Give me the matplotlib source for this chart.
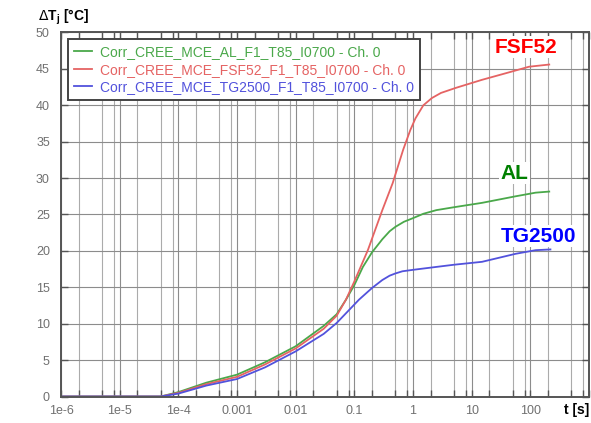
import numpy as np
import matplotlib
matplotlib.use("Agg")
import matplotlib.pyplot as plt
from matplotlib.ticker import FixedLocator, NullFormatter

plt.rcParams['font.family'] = ['Liberation Sans', 'DejaVu Sans']

# Transient thermal response: junction temperature rise vs. time
t_al = [1e-6, 5e-5, 1e-4, 3e-4, 1e-3, 3e-3, 1e-2, 3e-2, 0.05, 0.072, 0.1, 0.14,
        0.2, 0.3, 0.4, 0.5, 0.7, 1.0, 1.5, 2.5, 5, 15, 56, 123, 210]
dt_al = [0, 0, 0.6, 1.9, 3.0, 4.7, 6.9, 9.7, 11.3, 13.3, 15.3, 17.8,
         19.8, 21.6, 22.7, 23.3, 24.0, 24.5, 25.1, 25.6, 26.0, 26.6, 27.5, 28.0, 28.15]

t_fsf = [1e-6, 5e-5, 1e-4, 3e-4, 1e-3, 3e-3, 1e-2, 3e-2, 0.05, 0.072, 0.1, 0.17,
         0.3, 0.45, 0.68, 0.9, 1.1, 1.5, 2.1, 3.0, 5.4, 15, 38, 95, 210]
dt_fsf = [0, 0, 0.5, 1.7, 2.7, 4.4, 6.6, 9.3, 11.1, 13.3, 15.8, 20.1,
          25.6, 29.3, 33.9, 36.6, 38.2, 40.0, 41.0, 41.7, 42.4, 43.5, 44.4, 45.3, 45.6]

t_tg = [1e-6, 5e-5, 1e-4, 3e-4, 1e-3, 3e-3, 1e-2, 3e-2, 0.05, 0.12, 0.2, 0.3,
        0.4, 0.5, 0.66, 1.0, 2.5, 5, 15, 56, 123, 220]
dt_tg = [0, 0, 0.4, 1.5, 2.4, 4.0, 6.2, 8.6, 10.1, 13.3, 14.9, 16.0,
         16.6, 16.9, 17.2, 17.4, 17.8, 18.1, 18.5, 19.6, 20.1, 20.2]

labels = ["Corr_CREE_MCE_AL_F1_T85_I0700 - Ch. 0",
          "Corr_CREE_MCE_FSF52_F1_T85_I0700 - Ch. 0",
          "Corr_CREE_MCE_TG2500_F1_T85_I0700 - Ch. 0"]
line_colors = ["#4aa84a", "#e56363", "#5252dc"]

decades = [1e-6, 1e-5, 1e-4, 1e-3, 1e-2, 1e-1, 1, 10, 100, 1000]
decade_labels = ["1e-6", "1e-5", "1e-4", "0.001", "0.01", "0.1", "1", "10", "100", ""]

fig = plt.figure(figsize=(5.91, 4.23), dpi=100)
ax = fig.add_axes([61 / 591, 1 - 396.5 / 423, 528 / 591, 364 / 423])

ax.plot(t_al, dt_al, color=line_colors[0], lw=1.3, label=labels[0])
ax.plot(t_fsf, dt_fsf, color=line_colors[1], lw=1.3, label=labels[1])
ax.plot(t_tg, dt_tg, color=line_colors[2], lw=1.3, label=labels[2])

ax.set_xscale('log')
ax.set_xlim(1e-6, 1e3)
ax.set_ylim(0, 50)

minor = [d * m for d in decades[:-1] for m in (2, 5, 8)]
ax.xaxis.set_major_locator(FixedLocator(decades))
ax.set_xticklabels(decade_labels)
ax.xaxis.set_minor_locator(FixedLocator(minor))
ax.xaxis.set_minor_formatter(NullFormatter())
ax.set_yticks(np.arange(0, 51, 5))

ax.grid(True, which='major', color='#8c8c8c', lw=0.8)
ax.grid(True, which='minor', axis='x', color='#ababab', lw=0.8)
ax.set_axisbelow(True)

ax.tick_params(which='both', direction='in', top=True, right=True,
               colors='#555555', labelcolor='#707070', labelsize=9)
ax.tick_params(which='major', length=5, width=1)
ax.tick_params(which='minor', length=5, width=1)
ax.tick_params(axis='x', pad=6)
ax.tick_params(axis='y', pad=8)
for s in ax.spines.values():
    s.set_color('#555555')
    s.set_linewidth(1.4)

leg = ax.legend(loc='upper left', bbox_to_anchor=(0.013, 0.982), borderaxespad=0,
                fontsize=10, handlelength=1.3, handletextpad=0.55,
                labelspacing=0.25, fancybox=False, framealpha=1,
                edgecolor='#444444', borderpad=0.45)
leg.get_frame().set_linewidth(1.4)
for txt, c in zip(leg.get_texts(), line_colors):
    txt.set_color(c)

# Series names placed next to their curves
ax.text(84, 48.0, "FSF52", color='#ff0000', fontsize=15, fontweight='bold',
        ha='center', va='center',
        bbox=dict(facecolor='white', edgecolor='none', pad=1))
ax.text(53, 30.7, "AL", color='#008000', fontsize=15, fontweight='bold',
        ha='center', va='center',
        bbox=dict(facecolor='white', edgecolor='none', pad=1))
ax.text(140, 22.0, "TG2500", color='#0000ff', fontsize=15, fontweight='bold',
        ha='center', va='center',
        bbox=dict(facecolor='white', edgecolor='none', pad=1))

fig.text(38 / 591, 1 - 17 / 423, r"$\Delta$T$_\mathregular{j}$ [°C]", fontsize=10,
         fontweight='bold', ha='left', va='center')
fig.text(577 / 591, 1 - 410 / 423, "t [s]", fontsize=10, fontweight='bold',
         ha='center', va='center')

fig.savefig("out.png", dpi=100)
